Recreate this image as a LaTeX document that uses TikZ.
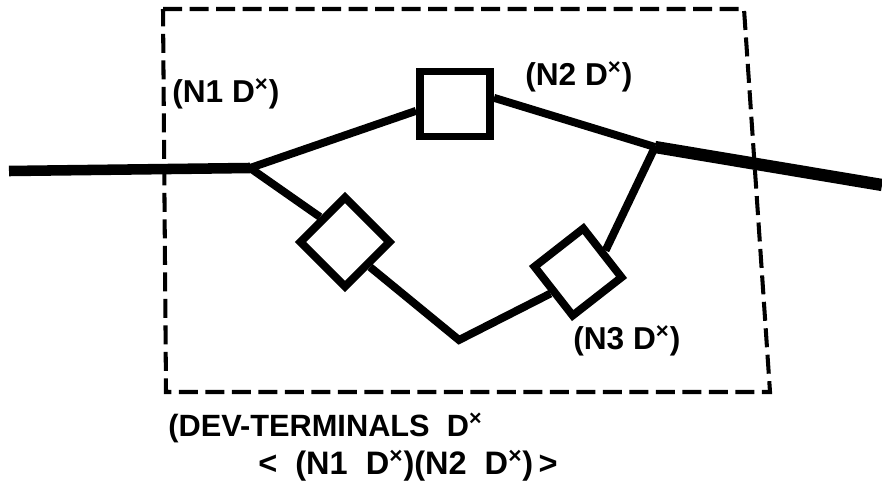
\documentclass[tikz,border=0pt]{standalone}
\usepackage{fontspec}
\setmainfont{Liberation Sans}
\usetikzlibrary{calc}
\newcommand{\Dx}{D\textsuperscript{×}}

\begin{document}
\begin{tikzpicture}[x = 0.2mm, y = -0.2mm,
            wire/.style = {black, line width=4.5pt},
            lead/.style = {black, line width=6pt},
            devbox/.style = {draw, black, line width=4.5pt, inner sep=0pt},
            lbl/.style = {font=\bfseries\fontsize{18}{20}\selectfont, inner sep=0pt, anchor=west},
            note/.style = {font=\bfseries\fontsize{17.5}{20}\selectfont, inner sep=0pt, anchor=west}]
            \useasboundingbox (0,0) rectangle (882,483);

            % dashed boundary
            \draw[black, line width=2.3pt, dash pattern=on 3.8mm off 1.5mm]
                (163,9) -- (744,9) -- (770,392) -- (166,392) -- cycle;

            % junctions and ends
            \coordinate (west) at (9,171);
            \coordinate (A) at (250,168);
            \coordinate (B) at (655,147);
            \coordinate (east) at (882,185);
            \coordinate (C) at (459,340);

            % devices
            \node[devbox, minimum width=14mm, minimum height=13mm] (top) at (455,104) {};
            \node[devbox, minimum size=12.6mm, rotate=45] (ld) at (345,242) {};
            \node[devbox, minimum size=12.4mm, rotate=38] (rd) at (578,272) {};

            % wires
            \draw[lead] (west) -- (A);
            \draw[lead, line width=7pt] (B) -- (east);
            \draw[wire] (A) -- (top.190);
            \draw[wire] (top.9) -- (B);
            \draw[wire, line join=miter] (A) -- (ld.north);
            \draw[wire, line join=miter] (ld.south) -- (C) -- (rd.west);
            \draw[wire] (rd.east) -- (B);

            % labels
            \node[lbl] (n1) at (172,94) {(N1 \Dx)};
            \node[lbl] (n2) at (525,77) {(N2 \Dx)};
            \node[lbl] (n3) at (573,341) {(N3 \Dx)};
            \node[note] (dev) at (168,428) {(DEV-TERMINALS\ \ \Dx};
            \node[note, font=\bfseries\fontsize{18.5}{20}\selectfont] (terms) at (258,466)
                {<\ \ (N1\ \ \Dx)(N2\ \ \Dx)\,>};
        \end{tikzpicture}
\end{document}
